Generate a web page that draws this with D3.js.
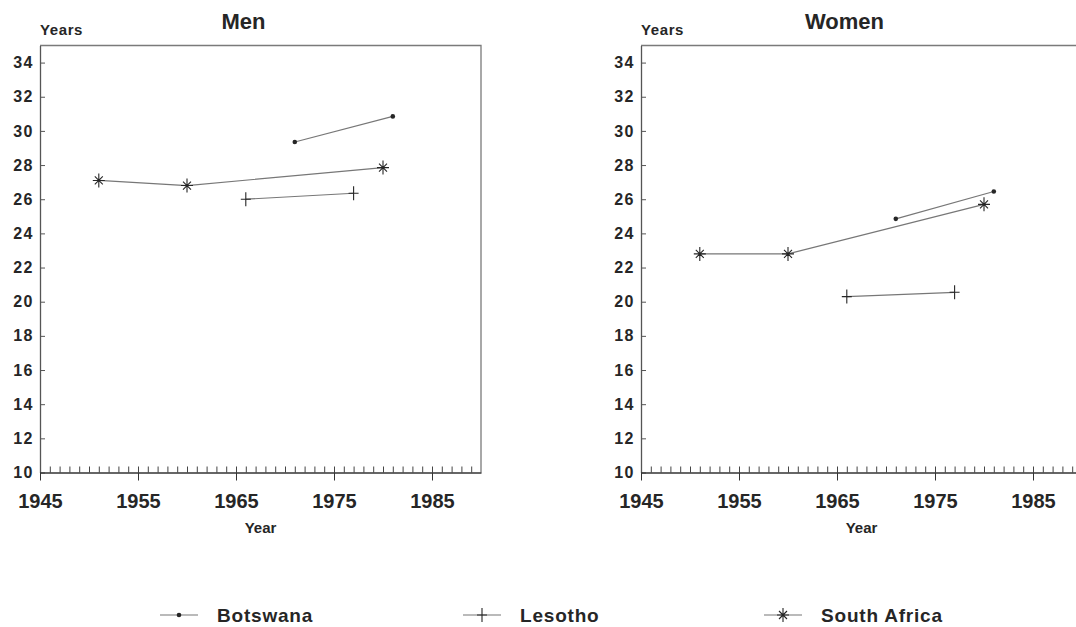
<!DOCTYPE html>
<html>
<head>
<meta charset="utf-8">
<script src="https://cdn.jsdelivr.net/npm/d3@7"></script>
<style>
  body { margin: 0; background: #fff; }
  svg { display: block; font-family: "Liberation Sans", Arial, sans-serif; font-weight: bold; }
</style>
</head>
<body>
<svg id="chart" width="1076" height="627"></svg>
<script>
/* data */
const countries = ['Botswana', 'Lesotho', 'South Africa']
const panelTitles = ['Men', 'Women']
const yearTicks = [1945, 1955, 1965, 1975, 1985]
const ageTicks = [10, 12, 14, 16, 18, 20, 22, 24, 26, 28, 30, 32, 34]

const menBotswana = [[1971, 29.35], [1981, 30.85]]
const menLesotho = [[1966, 26.0], [1977, 26.35]]
const menSouthAfrica = [[1951, 27.1], [1960, 26.8], [1980, 27.85]]

const womenBotswana = [[1971, 24.85], [1981, 26.45]]
const womenLesotho = [[1966, 20.3], [1977, 20.55]]
const womenSouthAfrica = [[1951, 22.8], [1960, 22.8], [1980, 25.7]]

const panels = [
  { title: panelTitles[0], left: 40, series: [menBotswana, menLesotho, menSouthAfrica] },
  { title: panelTitles[1], left: 641, series: [womenBotswana, womenLesotho, womenSouthAfrica] }
]

const plotW = 441, plotTop = 45.5, plotBottom = 472.5
const ink = '#262626', lineCol = '#777'

const svg = d3.select('#chart')

const y = d3.scaleLinear().domain([10, 35]).range([plotBottom, plotTop])

/* marqueurs : point, croix, étoile */
const marker = (g, kind, cx, cy) => {
  if (kind === 0) {
    g.append('circle').attr('cx', cx).attr('cy', cy).attr('r', 2.3).attr('fill', ink)
  } else if (kind === 1) {
    g.append('path')
      .attr('d', `M${cx},${cy - 7}V${cy + 7}M${cx - 5},${cy}H${cx + 5}`)
      .attr('stroke', ink).attr('stroke-width', 1.1).attr('fill', 'none')
  } else {
    g.append('path')
      .attr('d', `M${cx},${cy - 7}V${cy + 7}M${cx - 6},${cy}H${cx + 6}` +
        `M${cx - 4},${cy - 4}L${cx + 4},${cy + 4}M${cx - 4},${cy + 4}L${cx + 4},${cy - 4}`)
      .attr('stroke', ink).attr('stroke-width', 1.1).attr('fill', 'none')
  }
}

panels.forEach(p => {
  const x = d3.scaleLinear().domain([1945, 1990]).range([p.left, p.left + plotW])
  const g = svg.append('g')

  /* cadre haut et droit */
  g.append('path')
    .attr('d', `M${x(1945)},${plotTop}H${x(1990)}V${plotBottom}`)
    .attr('stroke', '#7a7a7a').attr('stroke-width', 1.3).attr('fill', 'none')

  /* axe Y */
  const yAxis = g.append('g')
    .attr('transform', `translate(${x(1945)},0)`)
    .call(d3.axisLeft(y).tickValues(ageTicks).tickSizeInner(-5).tickSizeOuter(0).tickPadding(6))
  yAxis.select('.domain').attr('stroke', '#555').attr('stroke-width', 1.3)
  yAxis.selectAll('.tick line').attr('stroke', '#555')
  yAxis.selectAll('.tick text')
    .attr('fill', ink).style('font-size', '16px').style('letter-spacing', '1.5px')
    .style('font-family', '"Liberation Sans", Arial, sans-serif').style('font-weight', 'bold')

  /* graduations mineures (années) */
  const minor = g.append('g')
    .attr('transform', `translate(0,${plotBottom})`)
    .call(d3.axisBottom(x).tickValues(d3.range(1946, 1990)).tickSize(-6).tickFormat(''))
  minor.select('.domain').remove()
  minor.selectAll('.tick line').attr('stroke', '#444')

  /* axe X principal */
  const xAxis = g.append('g')
    .attr('transform', `translate(0,${plotBottom})`)
    .call(d3.axisBottom(x).tickValues(yearTicks).tickFormat(d3.format('d'))
      .tickSizeInner(8).tickSizeOuter(0).tickPadding(13))
  xAxis.select('.domain').attr('stroke', '#333').attr('stroke-width', 1.3)
  xAxis.selectAll('.tick line').attr('stroke', '#333')
  xAxis.selectAll('.tick text')
    .attr('fill', ink).style('font-size', '20px')
    .style('font-family', '"Liberation Sans", Arial, sans-serif').style('font-weight', 'bold')

  /* textes */
  g.append('text').attr('x', (x(1945) + x(1990)) / 2 - 17).attr('y', 29)
    .attr('text-anchor', 'middle').attr('fill', ink).style('font-size', '22px').text(p.title)
  g.append('text').attr('x', x(1945)).attr('y', 35)
    .attr('fill', ink).style('font-size', '15px').style('letter-spacing', '0.6px').text('Years')
  g.append('text').attr('x', (x(1945) + x(1990)) / 2).attr('y', 533)
    .attr('text-anchor', 'middle').attr('fill', ink).style('font-size', '15px').text('Year')

  /* séries */
  const line = d3.line().x(d => x(d[0])).y(d => y(d[1]))
  p.series.forEach((s, i) => {
    g.append('path').datum(s).attr('d', line)
      .attr('fill', 'none').attr('stroke', lineCol).attr('stroke-width', 1.2)
    s.forEach(d => marker(g, i, x(d[0]), y(d[1])))
  })
})

/* légende */
const legendX = [160, 463, 764]
const lg = svg.append('g')
countries.forEach((c, i) => {
  const lx = legendX[i], ly = 615
  lg.append('line').attr('x1', lx).attr('x2', lx + 38).attr('y1', ly).attr('y2', ly)
    .attr('stroke', lineCol).attr('stroke-width', 1.2)
  marker(lg, i, lx + 19, ly)
  lg.append('text').attr('x', lx + 57).attr('y', ly + 7)
    .attr('fill', ink).style('font-size', '19px').style('letter-spacing', '0.8px').text(c)
})
</script>
</body>
</html>
